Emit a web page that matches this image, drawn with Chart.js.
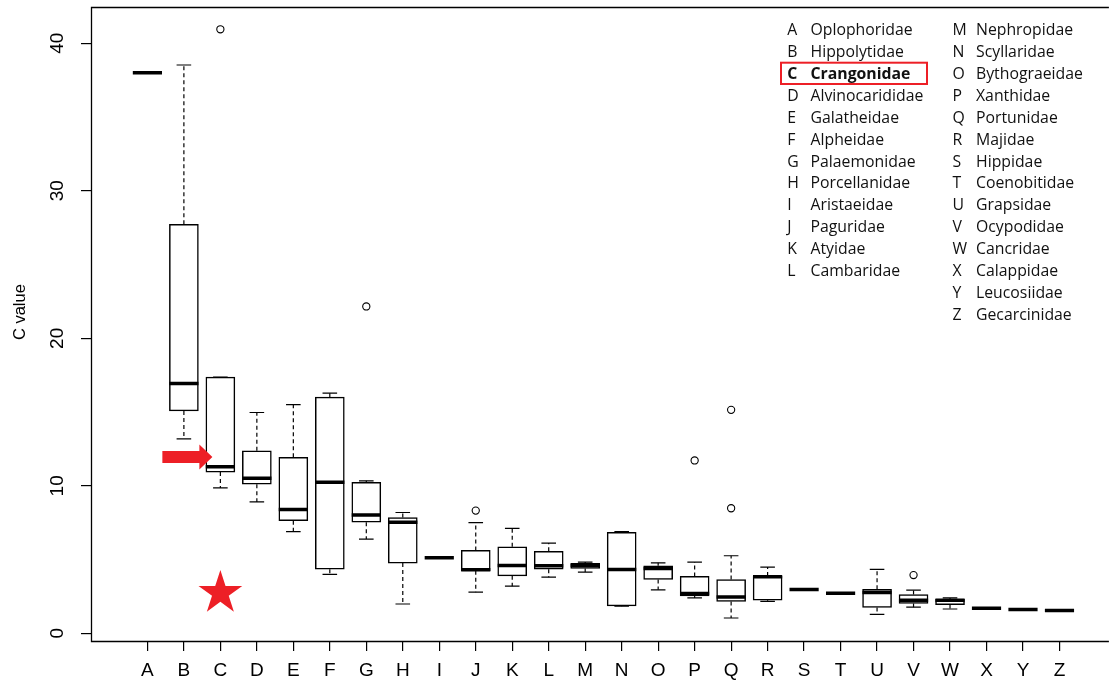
<!DOCTYPE html>
<html><head><meta charset="utf-8">
<script src="https://cdn.jsdelivr.net/npm/chart.js@4.4.1/dist/chart.umd.min.js"></script>
<style>
html,body{margin:0;padding:0;overflow:hidden;background:#fff;width:1112px;height:681px}
canvas{display:block}
</style></head><body>
<canvas id="c" width="1112" height="681"></canvas>
<script>
// ---- data ----
const categories = ['A','B','C','D','E','F','G','H','I','J','K','L','M','N','O','P','Q','R','S','T','U','V','W','X','Y','Z'];
const families = ['Oplophoridae','Hippolytidae','Crangonidae','Alvinocarididae','Galatheidae','Alpheidae','Palaemonidae','Porcellanidae','Aristaeidae','Paguridae','Atyidae','Cambaridae','Nephropidae','Scyllaridae','Bythograeidae','Xanthidae','Portunidae','Majidae','Hippidae','Coenobitidae','Grapsidae','Ocypodidae','Cancridae','Calappidae','Leucosiidae','Gecarcinidae'];
const whiskerLow  = [null,13.18, 9.86, 8.91, 6.89, 3.99, 6.39, 1.99,null,2.79,3.20,3.81,4.15,1.84,2.95,2.40,1.04,2.16,null,null,1.29,1.77,1.65,null,null,null];
const q1          = [null,15.08,10.93,10.11, 7.64, 4.35, 7.53, 4.76,null,4.24,3.90,4.35,4.40,1.86,3.65,2.54,2.16,2.24,null,null,1.75,2.02,1.95,null,null,null];
const medians     = [38.0,16.94,11.29,10.52, 8.39,10.25, 8.03, 7.53,5.12,4.31,4.60,4.58,4.60,4.33,4.40,2.70,2.47,3.83,2.97,2.72,2.77,2.24,2.24,1.70,1.61,1.54];
const q3          = [null,27.73,17.37,12.38,11.93,16.01,10.23, 7.85,null,5.62,5.87,5.56,4.74,6.85,4.58,3.86,3.65,3.88,null,null,2.99,2.63,2.31,null,null,null];
const whiskerHigh = [null,38.53,17.37,14.97,15.51,16.28,10.34, 8.19,null,7.51,7.12,6.12,4.83,6.90,4.78,4.83,5.26,4.49,null,null,4.33,2.93,2.40,null,null,null];
const outlierCats   = ['C','G','J','P','Q','Q','V'];
const outlierValues = [40.95,22.16,8.32,11.72,15.15,8.48,3.95];
const yTicks = [0,10,20,30,40];
const yTitle = 'C value';
const highlightCat = 'C';
const starValue = 2.73;
const arrowValue = 11.95;

// ---- build datasets from the arrays ----
const BOX_HALF = 0.4, CAP_HALF = 0.2;
const idx = categories.map((_, i) => i);
const isBox = i => q1[i] !== null;
const gap = i => ({x: i, y: null});

const boxData = idx.filter(isBox).map(i => ({x: i, y: [q1[i], q3[i]]}));
const medianData = idx.flatMap(i => [{x: i - BOX_HALF, y: medians[i]}, {x: i + BOX_HALF, y: medians[i]}, gap(i)]);
const whiskerData = idx.filter(isBox).flatMap(i => [
  {x: i, y: q3[i]}, {x: i, y: whiskerHigh[i]}, gap(i),
  {x: i, y: q1[i]}, {x: i, y: whiskerLow[i]}, gap(i)]);
const capData = idx.filter(isBox).flatMap(i => [
  {x: i - CAP_HALF, y: whiskerHigh[i]}, {x: i + CAP_HALF, y: whiskerHigh[i]}, gap(i),
  {x: i - CAP_HALF, y: whiskerLow[i]},  {x: i + CAP_HALF, y: whiskerLow[i]},  gap(i)]);
const outlierData = outlierCats.map((c, k) => ({x: categories.indexOf(c), y: outlierValues[k]}));

const RED = '#ED1F26';
const annotations = {
  id: 'annotations',
  afterDatasetsDraw(chart) {
    const {ctx, chartArea: a, scales: {x, y}} = chart;
    ctx.save();
    // frame (right side lies outside the picture)
    const L = Math.round(a.left) + 0.5, T = Math.round(a.top) + 0.5, B = Math.round(a.bottom) + 0.5;
    ctx.strokeStyle = '#000'; ctx.lineWidth = 1.3;
    ctx.beginPath();
    ctx.moveTo(a.right + 2, T); ctx.lineTo(L, T); ctx.lineTo(L, B); ctx.lineTo(a.right + 2, B);
    ctx.stroke();
    // y-axis title
    ctx.save();
    ctx.translate(20.5, (a.top + a.bottom) / 2 - 12);
    ctx.rotate(-Math.PI / 2);
    ctx.font = '16.5px "Liberation Sans", Arial, sans-serif';
    ctx.fillStyle = '#000'; ctx.textAlign = 'center'; ctx.textBaseline = 'middle';
    ctx.fillText(yTitle, 0, 0);
    ctx.restore();
    // star
    const hi = categories.indexOf(highlightCat);
    const sx = x.getPixelForValue(hi), sy = y.getPixelForValue(starValue);
    const R = 23, r = R * 0.382;
    ctx.fillStyle = RED; ctx.beginPath();
    for (let k = 0; k < 10; k++) {
      const ang = -Math.PI / 2 + k * Math.PI / 5, rr = k % 2 ? r : R;
      const px = sx + rr * Math.cos(ang), py = sy + rr * Math.sin(ang);
      k ? ctx.lineTo(px, py) : ctx.moveTo(px, py);
    }
    ctx.closePath(); ctx.fill();
    // arrow
    const ay = y.getPixelForValue(arrowValue);
    const tip = sx - 8, tail = sx - 58, base = sx - 21;
    ctx.beginPath();
    ctx.moveTo(tail, ay - 6); ctx.lineTo(base, ay - 6); ctx.lineTo(base, ay - 12.5);
    ctx.lineTo(tip, ay); ctx.lineTo(base, ay + 12.5); ctx.lineTo(base, ay + 6);
    ctx.lineTo(tail, ay + 6); ctx.closePath(); ctx.fill();
    // legend of families
    ctx.fillStyle = '#111'; ctx.textBaseline = 'alphabetic'; ctx.textAlign = 'left';
    categories.forEach((c, i) => {
      const col = i < 12 ? 0 : 1, row = i < 12 ? i : i - 12;
      const lx = col ? 952.5 : 787.3, nx = col ? 976 : 810.5;
      const by = 34.8 + row * 21.95;
      const bold = c === highlightCat;
      ctx.font = (bold ? 'bold ' : '') + '15.8px "Open Sans"';
      ctx.fillText(c, lx, by);
      ctx.fillText(families[i], nx, by);
      if (bold) {
        ctx.strokeStyle = RED; ctx.lineWidth = 2;
        ctx.strokeRect(781, by - 16, 146, 21.3);
      }
    });
    ctx.restore();
  }
};

const font = {family: '"Liberation Sans", Arial, sans-serif', size: 19};
new Chart(document.getElementById('c'), {
  type: 'scatter',
  data: {datasets: [
    {type: 'line', data: medianData, borderColor: '#000', borderWidth: 3.5, pointRadius: 0, spanGaps: false, borderCapStyle: 'butt', order: 0},
    {type: 'scatter', data: outlierData, pointStyle: 'circle', radius: 3.6, borderColor: '#000', backgroundColor: 'rgba(0,0,0,0)', borderWidth: 1.1, order: 1},
    {type: 'line', data: capData, borderColor: '#000', borderWidth: 1.2, pointRadius: 0, spanGaps: false, order: 2},
    {type: 'line', data: whiskerData, borderColor: '#000', borderWidth: 1.2, borderDash: [4, 3], pointRadius: 0, spanGaps: false, order: 3},
    {type: 'bar', data: boxData, backgroundColor: '#fff', borderColor: '#000', borderWidth: 1.5, borderSkipped: false, barThickness: 29, order: 4}
  ]},
  options: {
    responsive: false, animation: false,
    layout: {padding: {top: 7.3, right: 0, left: 0, bottom: 0}},
    plugins: {legend: {display: false}, tooltip: {enabled: false}},
    scales: {
      x: {
        type: 'linear', min: -1.546, max: 26.30, offset: false,
        afterBuildTicks: s => { s.ticks = idx.map(i => ({value: i})); },
        afterFit: s => { s.height = 40; s.paddingLeft = 0; s.paddingRight = 0; },
        border: {display: false},
        grid: {offset: false, drawOnChartArea: false, drawTicks: true, tickLength: 10, color: '#000', lineWidth: 1.2},
        ticks: {autoSkip: false, maxRotation: 0, minRotation: 0, padding: 8, color: '#000', font, callback: v => categories[v]}
      },
      y: {
        type: 'linear', min: -0.52, max: 42.44, offset: false,
        afterBuildTicks: s => { s.ticks = yTicks.map(v => ({value: v})); },
        afterFit: s => { s.width = 91; s.paddingTop = 0; s.paddingBottom = 0; },
        border: {display: false},
        grid: {drawOnChartArea: false, drawTicks: true, tickLength: 10, color: '#000', lineWidth: 1.2},
        ticks: {minRotation: 90, maxRotation: 90, crossAlign: 'center', padding: 12.5, color: '#000', font},
        title: {display: false}
      }
    }
  },
  plugins: [annotations]
});
</script>
</body></html>
